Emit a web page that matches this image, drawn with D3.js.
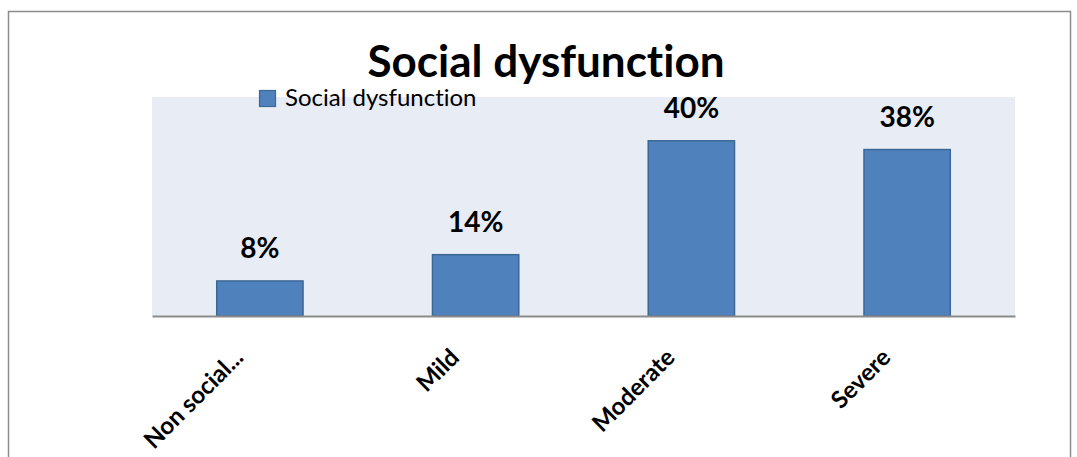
<!DOCTYPE html>
<meta charset="utf-8">
<head>
<script src="https://d3js.org/d3.v7.min.js"></script>
<style>
  body { margin: 0; background: #fff; }
  text { font-family: Lato, "Open Sans", sans-serif; font-variant-ligatures: none; }
</style>
</head>
<body>
<script>

var categories = ["Non social...", "Mild", "Moderate", "Severe"];
var values = [8, 14, 40, 38];
var labels = ["8%", "14%", "40%", "38%"];
var seriesName = "Social dysfunction";
var chartTitle = "Social dysfunction";

var width = 1077, height = 457;

var svg = d3.select("body").append("svg")
    .attr("width", width)
    .attr("height", height);

// outer frame
svg.append("rect")
    .attr("x", 8.5).attr("y", 11.5)
    .attr("width", 1062).attr("height", 460)
    .style("fill", "#fff")
    .style("stroke", "#8c8c8c")
    .style("stroke-width", 1.5);

var plot = {left: 152, right: 1015, top: 97, bottom: 316};

var x = d3.scaleBand()
    .domain(categories)
    .range([plot.left, plot.right])
    .paddingInner(0.6)
    .paddingOuter(0.3);

var y = d3.scaleLinear()
    .domain([0, 50])
    .range([plot.bottom, plot.top]);

svg.append("rect")
    .attr("x", plot.left).attr("y", plot.top)
    .attr("width", plot.right - plot.left)
    .attr("height", plot.bottom - plot.top)
    .style("fill", "#e8ecf4");

svg.selectAll(".bar")
    .data(values)
  .enter().append("rect")
    .attr("class", "bar")
    .attr("x", function(d, i) { return x(categories[i]); })
    .attr("y", function(d) { return y(d); })
    .attr("width", x.bandwidth())
    .attr("height", function(d) { return y(0) - y(d); })
    .style("fill", "#4f81bd")
    .style("stroke", "#3b6795")
    .style("stroke-width", 1.5);

svg.selectAll(".lbl")
    .data(values)
  .enter().append("text")
    .attr("class", "lbl")
    .attr("x", function(d, i) { return x(categories[i]) + x.bandwidth() / 2; })
    .attr("y", function(d) { return y(d) - 23; })
    .attr("text-anchor", "middle")
    .style("font-weight", "bold")
    .style("font-size", "28px")
    .style("fill", "#000")
    .text(function(d, i) { return labels[i]; });

// x axis
var xAxis = d3.axisBottom(x).tickSize(0).tickPadding(0);
var gx = svg.append("g")
    .attr("transform", "translate(0," + plot.bottom + ")")
    .call(xAxis);
gx.select(".domain").style("stroke", "#8c8c8c").style("stroke-width", 2);
gx.selectAll("text")
    .attr("text-anchor", "end")
    .attr("dy", 0)
    .attr("y", 0)
    .attr("transform", "translate(-15,43) rotate(-45)")
    .style("font-size", "24px")
    .style("font-weight", "bold")
    .style("fill", "#000")
    .style("font-family", "Lato, 'Open Sans', sans-serif");

// title
svg.append("text")
    .attr("x", 546).attr("y", 77)
    .attr("text-anchor", "middle")
    .style("font-weight", "bold")
    .style("font-size", "44px")
    .text(chartTitle);

// legend
svg.append("rect")
    .attr("x", 259.5).attr("y", 90.5)
    .attr("width", 16).attr("height", 16)
    .style("fill", "#4f81bd")
    .style("stroke", "#3b6795")
    .style("stroke-width", 1.2);
svg.append("text")
    .attr("x", 285).attr("y", 106)
    .style("font-size", "24px")
    .text(seriesName);

</script>
</body>
